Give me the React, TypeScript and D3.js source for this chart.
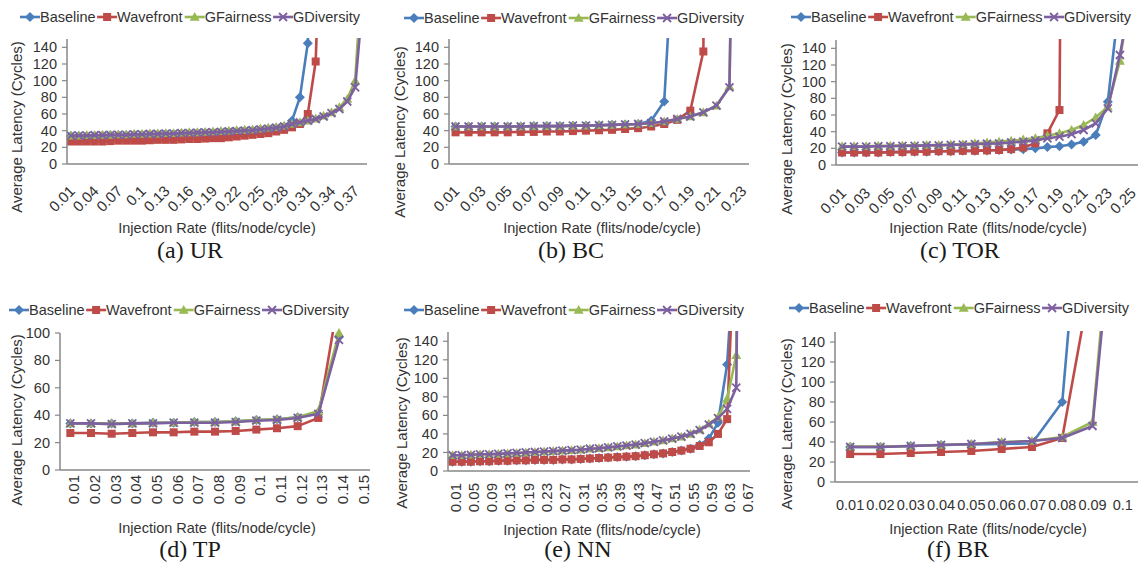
import React from 'react';
import * as d3 from 'd3';

type V = number | null;

const SERIES_NAMES = ['Baseline', 'Wavefront', 'GFairness', 'GDiversity'];
const SERIES_COLORS = ['#4A7EBB', '#BE4B48', '#98B954', '#7D60A0'];
const SERIES_MARKERS = ['diamond', 'square', 'triangle', 'cross'];

const latencyTicks150 = [0, 20, 40, 60, 80, 100, 120, 140];
const latencyTicks100 = [0, 20, 40, 60, 80, 100];

// (a) UR
const urRates = ['0.01','0.02','0.03','0.04','0.05','0.06','0.07','0.08','0.09','0.1','0.11','0.12','0.13','0.14','0.15','0.16','0.17','0.18','0.19','0.2','0.21','0.22','0.23','0.24','0.25','0.26','0.27','0.28','0.29','0.3','0.31','0.32','0.33','0.34','0.35','0.36','0.37','0.38'];
const urBaseline: V[] = [33.5,33.5,33.5,34,34,34.5,34.5,34.5,35,35, 35.5,35.5,36,36,36.5,36.5,37,37.5,37.5,38, 38.5,39,39.5,40,41,42,43,45,52,80, 145,500,null,null,null,null,null,null];
const urWavefront: V[] = [27,27,27,27,27,27.5,28,28,28,28, 28.5,29,29,29,29.5,30,30,30.5,31,31, 32,33,34,35,36,37,39,41,44,48, 60,123,400,null,null,null,null,null];
const urGFairness: V[] = [34,34,34.5,34.5,35,35,35.5,35.5,36,36, 36.5,36.5,37,37,37.5,38,38,38.5,39,39.5, 40,40.5,41,41.5,42.5,43.5,44.5,46,48,50, 52,54.5,58,62,68,78,100,250];
const urGDiversity: V[] = [34,34,34,34.5,34.5,35,35,35,35.5,35.5, 36,36,36.5,36.5,37,37,37.5,38,38,38.5, 39,39.5,40,40.5,41.5,42.5,43.5,45,48,50, 52,54,57,61,66,75,92,200];

// (b) BC
const bcRates = ['0.01','0.02','0.03','0.04','0.05','0.06','0.07','0.08','0.09','0.1','0.11','0.12','0.13','0.14','0.15','0.16','0.17','0.18','0.19','0.2','0.21','0.22','0.23'];
const bcBaseline: V[] = [45,45,45,45,45,45,45.5,45.5,45.5,46, 46,46.5,47,47.5,48,52,75,350,null,null, null,null,null];
const bcWavefront: V[] = [38,38,38,38,38,38.5,38.5,39,39,39.5, 40,40.5,41,42,43,45,48,53,64,135, 2000,null,null];
const bcGFairness: V[] = [45,45,45,45,45,45,45.5,45.5,45.5,46, 46,46.5,47,47.5,48,49,51,54,57,62, 70,93,1000];
const bcGDiversity: V[] = [45,45,45,45,45,45,45.5,45.5,45.5,46, 46,46.5,47,47.5,48,49,51,54,57,62, 70,92,1000];

// (c) TOR
const torRates = ['0.01','0.02','0.03','0.04','0.05','0.06','0.07','0.08','0.09','0.1','0.11','0.12','0.13','0.14','0.15','0.16','0.17','0.18','0.19','0.2','0.21','0.22','0.23','0.24','0.25'];
const torBaseline: V[] = [15,15,15,15,15.5,15.5,16,16,16.5,16.5, 17,17,17.5,18,18.5,19,20,21.5,22.5,24.5, 28,36,76,203,null];
const torWavefront: V[] = [15,15,15,15,15.5,15.5,16,16,16.5,16.5, 17,17,17.5,18,19,21,26,38,66,2000, null,null,null,null,null];
const torGFairness: V[] = [22.5,22.5,22.5,23,23,23.5,23.5,24,24,24.5, 25,26,27,28,29,30.5,32,35,38,42, 48,57,70,125,220];
const torGDiversity: V[] = [22,22,22,22.5,22.5,23,23,23.5,23.5,24, 24.5,25,25.5,26,27,28,29.5,32,34,37, 42,50,68,132,210];

// (d) TP
const tpRates = ['0.01','0.02','0.03','0.04','0.05','0.06','0.07','0.08','0.09','0.1','0.11','0.12','0.13','0.14','0.15'];
const tpBaseline: V[] = [34,34,34,34,34.5,34.5,35,35,35.5,36.5, 37,38.5,42,97,null];
const tpWavefront: V[] = [27,27,26.5,27,27.5,27.5,28,28,28.5,29.5, 30.5,32,38,127,null];
const tpGFairness: V[] = [34,34,34,34,34.5,34.5,35,35,35.5,36.5, 37,38.5,43,100,null];
const tpGDiversity: V[] = [34,34,33.5,34,34,34.5,34.5,34.5,35,36, 36.5,38,41,95,null];

// (e) NN
const nnRates = ['0.01','0.03','0.05','0.07','0.09','0.11','0.13','0.16','0.19','0.21','0.23','0.25','0.27','0.29','0.31','0.33','0.35','0.37','0.39','0.41','0.43','0.45','0.47','0.49','0.51','0.53','0.55','0.57','0.59','0.61','0.63','0.65','0.67'];
const nnBaseline: V[] = [10,10,10,10.5,10.5,11,11,11.5,11.5, 12,12,12,12.5,12.5,13,13.5,14, 14.5,15,15.5,16,17,18,19,20.5, 22,24, 28,35,52,115,270,null];
const nnWavefront: V[] = [10,10,10,10.5,10.5,11,11,11.5,11.5, 12,12,12,12.5,12.5,13,13.5,14, 14.5,15,15.5,16,17,18,19,20.5, 22,24,27,31,40,56,300,null];
const nnGFairness: V[] = [17,17,17.5,18,18,18.5,19,19.5,20, 20.5,21,21.5,22,22.5,23,24,24.5, 25.5,26.5,27.5,28.5,30,31.5,33,35, 37,40,44.5,51,58,78,125,1000];
const nnGDiversity: V[] = [17,17,17.5,18,18,18.5,19,19.5,20, 20.5,21,21.5,22,22.5,23,24,24.5, 25.5,26.5,27.5,28.5,30,31.5,33,35, 37,40,44,50,57,67,90,1000];

// (f) BR
const brRates = ['0.01','0.02','0.03','0.04','0.05','0.06','0.07','0.08','0.09','0.1'];
const brBaseline: V[] = [35,35,36,37,37.5,38,38.5,80,430,null];
const brWavefront: V[] = [28,28,29,30,31,33,35,44,211,null];
const brGFairness: V[] = [35.5,35.5,36,37,38,40,41,45,60,400];
const brGDiversity: V[] = [35,35,36,37,38,39.5,41,44,56,370];

const Y_TITLE = 'Average Latency (Cycles)';
const X_TITLE = 'Injection Rate (flits/node/cycle)';

// legend text widths (em units, Arial metrics)
const LEGEND_EM = [3.835, 4.557, 4.612, 4.611];

interface PanelCfg {
  id: string;
  rates: string[];
  series: V[][];
  yMax: number;
  ticks: number[];
  caption: string;
  x0: number; x1: number; yBottom: number; yTop: number;
  labelMode: 'diag' | 'vert' | 'horiz';
  labelEvery: number;
  labelDx: number; labelDy: number;
  legendX: number; legendY: number;
  yTitleX: number; yTitleY: number;
  xTitleX: number; xTitleY: number;
  captionX: number; captionY: number;
}

const PANELS: PanelCfg[] = [
  { id: 'ur', rates: urRates, series: [urBaseline, urWavefront, urGFairness, urGDiversity], yMax: 150, ticks: latencyTicks150, caption: '(a) UR',
    x0: 67, x1: 367, yBottom: 164, yTop: 39, labelMode: 'diag', labelEvery: 3, labelDx: 5, labelDy: 28,
    legendX: 20, legendY: 17, yTitleX: 17, yTitleY: 127, xTitleX: 217, xTitleY: 228, captionX: 190, captionY: 258 },
  { id: 'bc', rates: bcRates, series: [bcBaseline, bcWavefront, bcGFairness, bcGDiversity], yMax: 150, ticks: latencyTicks150, caption: '(b) BC',
    x0: 449, x1: 749, yBottom: 164, yTop: 39, labelMode: 'diag', labelEvery: 2, labelDx: 5, labelDy: 28,
    legendX: 404, legendY: 18, yTitleX: 400, yTitleY: 132, xTitleX: 602, xTitleY: 228, captionX: 571, captionY: 258 },
  { id: 'tor', rates: torRates, series: [torBaseline, torWavefront, torGFairness, torGDiversity], yMax: 150, ticks: latencyTicks150, caption: '(c) TOR',
    x0: 836, x1: 1138, yBottom: 165, yTop: 40, labelMode: 'diag', labelEvery: 2, labelDx: 5, labelDy: 29,
    legendX: 791, legendY: 17, yTitleX: 787, yTitleY: 129, xTitleX: 988, xTitleY: 228, captionX: 960, captionY: 258 },
  { id: 'tp', rates: tpRates, series: [tpBaseline, tpWavefront, tpGFairness, tpGDiversity], yMax: 100, ticks: latencyTicks100, caption: '(d) TP',
    x0: 60, x1: 370, yBottom: 470, yTop: 333, labelMode: 'vert', labelEvery: 1, labelDx: 9, labelDy: 5,
    legendX: 9, legendY: 310, yTitleX: 17, yTitleY: 420, xTitleX: 217, xTitleY: 528, captionX: 190, captionY: 557 },
  { id: 'nn', rates: nnRates, series: [nnBaseline, nnWavefront, nnGFairness, nnGDiversity], yMax: 150, ticks: latencyTicks150, caption: '(e) NN',
    x0: 448, x1: 750, yBottom: 471, yTop: 332, labelMode: 'vert', labelEvery: 2, labelDx: 8, labelDy: 12,
    legendX: 404, legendY: 310, yTitleX: 402, yTitleY: 423, xTitleX: 602, xTitleY: 530, captionX: 578, captionY: 557 },
  { id: 'br', rates: brRates, series: [brBaseline, brWavefront, brGFairness, brGDiversity], yMax: 150, ticks: latencyTicks150, caption: '(f) BR',
    x0: 835, x1: 1138, yBottom: 482, yTop: 332, labelMode: 'horiz', labelEvery: 1, labelDx: 0, labelDy: 28,
    legendX: 789, legendY: 308, yTitleX: 787, yTitleY: 424, xTitleX: 988, xTitleY: 529, captionX: 958, captionY: 557 },
];

const TEXT_COLOR = '#333333';
const AXIS_COLOR = '#878787';
const FONT = '"Liberation Sans", Arial, sans-serif';

function Marker({ kind, x, y, color }: { kind: string; x: number; y: number; color: string }) {
  if (kind === 'diamond') {
    const s = 5;
    return <polygon points={`${x},${y - s} ${x + s},${y} ${x},${y + s} ${x - s},${y}`} fill={color} />;
  }
  if (kind === 'square') {
    return <rect x={x - 4} y={y - 4} width={8} height={8} fill={color} />;
  }
  if (kind === 'triangle') {
    return <polygon points={`${x},${y - 5} ${x + 5},${y + 3.8} ${x - 5},${y + 3.8}`} fill={color} />;
  }
  const s = 4;
  return (
    <path d={`M${x - s},${y - s}L${x + s},${y + s}M${x + s},${y - s}L${x - s},${y + s}`} stroke={color} strokeWidth={1.8} fill="none" />
  );
}

function Panel({ cfg }: { cfg: PanelCfg }) {
  const x = d3.scaleBand<string>().domain(cfg.rates).range([cfg.x0, cfg.x1]).paddingInner(0).paddingOuter(0);
  const y = d3.scaleLinear().domain([0, cfg.yMax]).range([cfg.yBottom, cfg.yTop]);
  const cx = (r: string) => (x(r) as number) + x.bandwidth() / 2;
  const lineGen = d3
    .line<[string, V]>()
    .defined((d) => d[1] != null)
    .x((d) => cx(d[0]))
    .y((d) => y(d[1] as number));

  const clipId = `clip-${cfg.id}`;
  const xFs = 15;

  // legend layout
  const legendFs = 14.5;
  const sampleW = 20;
  let lx = cfg.legendX;
  const legendItems = SERIES_NAMES.map((name, i) => {
    const item = { name, i, sx: lx, tx: lx + sampleW };
    lx = lx + sampleW + LEGEND_EM[i] * legendFs + 1.5;
    return item;
  });

  return (
    <g>
      <defs>
        <clipPath id={clipId}>
          <rect x={cfg.x0} y={cfg.yTop - 1} width={cfg.x1 - cfg.x0 + 2} height={cfg.yBottom - cfg.yTop + 8} />
        </clipPath>
      </defs>

      {/* y ticks */}
      {cfg.ticks.map((t) => (
        <g key={t}>
          <line x1={cfg.x0 - 5} x2={cfg.x0} y1={y(t)} y2={y(t)} stroke={AXIS_COLOR} strokeWidth={1.2} />
          <text x={cfg.x0 - 10} y={y(t)} dy="0.35em" textAnchor="end" fontSize={14.5} fill={TEXT_COLOR}>
            {t}
          </text>
        </g>
      ))}

      {/* x labels */}
      {cfg.rates.map((r, i) => {
        if (i % cfg.labelEvery !== 0) return null;
        const c = cx(r);
        if (cfg.labelMode === 'diag') {
          return (
            <text key={r} transform={`translate(${c + cfg.labelDx},${cfg.yBottom + cfg.labelDy}) rotate(-45)`} textAnchor="end" fontSize={xFs} fill={TEXT_COLOR}>
              {r}
            </text>
          );
        }
        if (cfg.labelMode === 'vert') {
          return (
            <text key={r} transform={`translate(${c + cfg.labelDx},${cfg.yBottom + cfg.labelDy}) rotate(-90)`} textAnchor="end" fontSize={xFs} fill={TEXT_COLOR}>
              {r}
            </text>
          );
        }
        return (
          <text key={r} x={c} y={cfg.yBottom + cfg.labelDy} textAnchor="middle" fontSize={14.5} fill={TEXT_COLOR}>
            {r}
          </text>
        );
      })}

      {/* series */}
      {cfg.series.map((vals, si) => {
        const pts: [string, V][] = cfg.rates.map((r, k) => [r, vals[k]]);
        return (
          <g key={si}>
            <path d={lineGen(pts) || ''} fill="none" stroke={SERIES_COLORS[si]} strokeWidth={2.6} strokeLinejoin="round" clipPath={`url(#${clipId})`} />
            {pts.map(([r, v]) =>
              v != null && v <= cfg.yMax ? (
                <Marker key={r} kind={SERIES_MARKERS[si]} x={cx(r)} y={y(v)} color={SERIES_COLORS[si]} />
              ) : null
            )}
          </g>
        );
      })}

      {/* axes */}
      <line x1={cfg.x0} x2={cfg.x0} y1={cfg.yTop} y2={cfg.yBottom} stroke={AXIS_COLOR} strokeWidth={1.5} />
      <line x1={cfg.x0} x2={cfg.x1} y1={cfg.yBottom} y2={cfg.yBottom} stroke={AXIS_COLOR} strokeWidth={1.5} />

      {/* legend */}
      {legendItems.map((it) => (
        <g key={it.name}>
          <line x1={it.sx} x2={it.sx + sampleW} y1={cfg.legendY} y2={cfg.legendY} stroke={SERIES_COLORS[it.i]} strokeWidth={2.6} />
          <Marker kind={SERIES_MARKERS[it.i]} x={it.sx + sampleW / 2} y={cfg.legendY} color={SERIES_COLORS[it.i]} />
          <text x={it.tx} y={cfg.legendY} dy="0.35em" fontSize={legendFs} fill={TEXT_COLOR}>
            {it.name}
          </text>
        </g>
      ))}

      {/* axis titles */}
      <text transform={`translate(${cfg.yTitleX},${cfg.yTitleY}) rotate(-90)`} textAnchor="middle" dy="0.35em" fontSize={15} fill={TEXT_COLOR}>
        {Y_TITLE}
      </text>
      <text x={cfg.xTitleX} y={cfg.xTitleY} dy="0.35em" textAnchor="middle" fontSize={14.5} fill={TEXT_COLOR}>
        {X_TITLE}
      </text>

      {/* caption */}
      <text x={cfg.captionX} y={cfg.captionY} textAnchor="middle" fontSize={24} fill="#1a1a1a" fontFamily='"Liberation Serif", "Times New Roman", serif'>
        {cfg.caption}
      </text>
    </g>
  );
}

export default function App() {
  return (
    <svg
      width={1139}
      height={575}
      style={{ position: 'absolute', left: 0, top: 0, background: '#fff' }}
      fontFamily={FONT}
    >
      <rect x={0} y={0} width={1139} height={575} fill="#fff" />
      {PANELS.map((p) => (
        <Panel key={p.id} cfg={p} />
      ))}
    </svg>
  );
}
